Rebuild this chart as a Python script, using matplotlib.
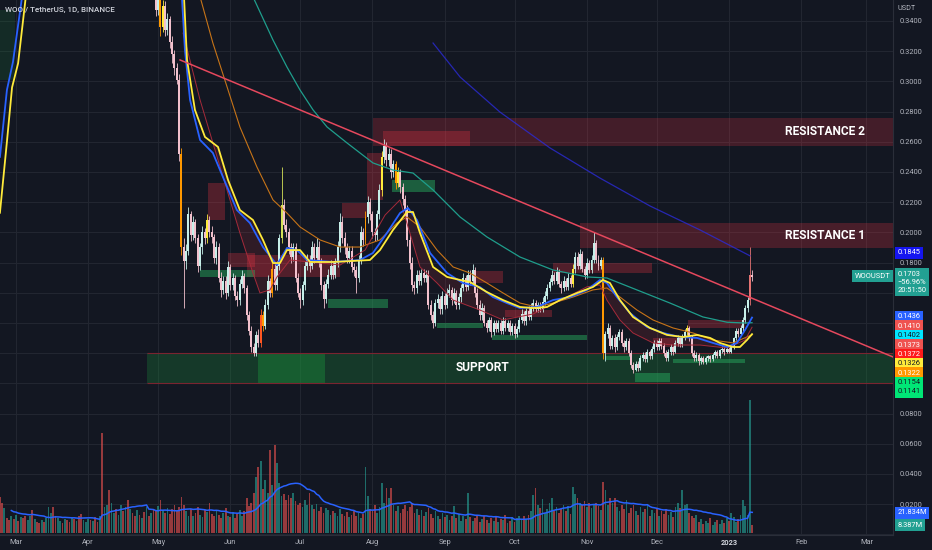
#!/usr/bin/env python3
# WOO / TetherUS daily chart with zones, moving averages and volume

import numpy as np
import pandas as pd
import matplotlib
matplotlib.use("Agg")
import matplotlib.pyplot as plt
from matplotlib.patches import Rectangle
from matplotlib.transforms import blended_transform_factory

plt.rcParams["font.family"] = ["Roboto", "DejaVu Sans"]

BG = "#131722"
GRID = "#222631"
TXT = "#b2b5be"
BULL = "#c6efe9"
BEAR = "#f2c1cd"

# x axis: day number counted from 2022-03-01
month_days = [0, 31, 61, 92, 122, 153, 184, 214, 245, 275, 306, 337, 365]
month_labels = ["Mar", "Apr", "May", "Jun", "Jul", "Aug", "Sep", "Oct", "Nov", "Dec", "2023", "Feb", "Mar"]

# candles (open = previous close)
first_day = 60
first_open = 0.370
closes = [
    0.347, 0.356, 0.336, 0.350, 0.334, 0.341, 0.326, 0.318, 0.309, 0.301,
    0.252, 0.190, 0.181, 0.188, 0.212, 0.198, 0.207, 0.196, 0.178, 0.190,
    0.200, 0.196, 0.208, 0.200, 0.197, 0.183, 0.190, 0.170, 0.162, 0.168,
    0.160, 0.177, 0.165, 0.170, 0.158, 0.155, 0.166, 0.171, 0.163, 0.145,
    0.135, 0.124, 0.120, 0.132, 0.127, 0.145, 0.138, 0.152, 0.168, 0.160,
    0.176, 0.165, 0.178, 0.196, 0.218, 0.205, 0.200, 0.190, 0.184, 0.190,
    0.170, 0.160, 0.155, 0.165, 0.178, 0.182, 0.178, 0.190, 0.183, 0.190,
    0.180, 0.165, 0.156, 0.166, 0.172, 0.178, 0.172, 0.180, 0.190, 0.207,
    0.196, 0.190, 0.183, 0.188, 0.177, 0.175, 0.170, 0.182, 0.200, 0.195,
    0.210, 0.220, 0.212, 0.200, 0.198, 0.212, 0.228, 0.250, 0.257, 0.248,
    0.252, 0.240, 0.245, 0.233, 0.240, 0.230, 0.222, 0.215, 0.195, 0.180,
    0.165, 0.163, 0.172, 0.168, 0.173, 0.170, 0.172, 0.152, 0.145, 0.140,
    0.153, 0.156, 0.149, 0.158, 0.152, 0.160, 0.162, 0.155, 0.160, 0.152,
    0.157, 0.163, 0.170, 0.164, 0.172, 0.168, 0.175, 0.160, 0.152, 0.145,
    0.150, 0.140, 0.137, 0.142, 0.134, 0.140, 0.136, 0.140, 0.135, 0.141,
    0.137, 0.140, 0.134, 0.138, 0.133, 0.136, 0.142, 0.146, 0.141, 0.148,
    0.144, 0.150, 0.153, 0.149, 0.152, 0.149, 0.154, 0.158, 0.163, 0.167,
    0.172, 0.168, 0.174, 0.166, 0.163, 0.168, 0.164, 0.170, 0.166, 0.176,
    0.184, 0.178, 0.186, 0.176, 0.172, 0.180, 0.175, 0.182, 0.193, 0.182,
    0.178, 0.182, 0.120, 0.133, 0.137, 0.125, 0.130, 0.124, 0.131, 0.134,
    0.127, 0.124, 0.128, 0.120, 0.112, 0.109, 0.113, 0.110, 0.117, 0.119,
    0.116, 0.121, 0.118, 0.123, 0.127, 0.124, 0.128, 0.125, 0.120, 0.117,
    0.121, 0.124, 0.121, 0.127, 0.130, 0.126, 0.131, 0.134, 0.137, 0.130,
    0.120, 0.117, 0.119, 0.115, 0.117, 0.114, 0.117, 0.118, 0.116, 0.119,
    0.121, 0.118, 0.122, 0.123, 0.121, 0.123, 0.121, 0.124, 0.130, 0.135,
    0.133, 0.137, 0.142, 0.150, 0.155, 0.172, 0.1703,
]
highs = [
    0.378, 0.362, 0.360, 0.354, 0.353, 0.345, 0.343, 0.330, 0.321, 0.312,
    0.305, 0.256, 0.196, 0.192, 0.217, 0.214, 0.211, 0.209, 0.199, 0.193,
    0.204, 0.203, 0.212, 0.211, 0.204, 0.199, 0.194, 0.193, 0.174, 0.171,
    0.171, 0.181, 0.179, 0.173, 0.172, 0.161, 0.169, 0.175, 0.173, 0.165,
    0.148, 0.138, 0.127, 0.135, 0.136, 0.149, 0.148, 0.156, 0.172, 0.170,
    0.180, 0.179, 0.181, 0.199, 0.243, 0.222, 0.209, 0.203, 0.193, 0.193,
    0.193, 0.173, 0.163, 0.168, 0.181, 0.186, 0.185, 0.194, 0.193, 0.196,
    0.194, 0.183, 0.168, 0.169, 0.176, 0.182, 0.181, 0.183, 0.194, 0.213,
    0.211, 0.200, 0.193, 0.191, 0.191, 0.180, 0.178, 0.185, 0.204, 0.203,
    0.214, 0.224, 0.223, 0.214, 0.203, 0.215, 0.232, 0.254, 0.262, 0.260,
    0.256, 0.255, 0.248, 0.247, 0.243, 0.242, 0.233, 0.225, 0.218, 0.198,
    0.184, 0.168, 0.175, 0.175, 0.176, 0.176, 0.175, 0.175, 0.155, 0.148,
    0.156, 0.159, 0.158, 0.161, 0.160, 0.163, 0.166, 0.164, 0.163, 0.162,
    0.160, 0.166, 0.173, 0.172, 0.175, 0.175, 0.179, 0.177, 0.163, 0.155,
    0.153, 0.152, 0.142, 0.144, 0.144, 0.142, 0.142, 0.142, 0.142, 0.144,
    0.143, 0.142, 0.142, 0.140, 0.140, 0.138, 0.144, 0.149, 0.148, 0.150,
    0.151, 0.153, 0.156, 0.155, 0.154, 0.154, 0.157, 0.161, 0.166, 0.170,
    0.175, 0.174, 0.177, 0.176, 0.168, 0.171, 0.170, 0.173, 0.172, 0.179,
    0.187, 0.187, 0.189, 0.188, 0.178, 0.183, 0.182, 0.185, 0.200, 0.195,
    0.185, 0.184, 0.184, 0.135, 0.140, 0.139, 0.132, 0.133, 0.133, 0.136,
    0.136, 0.129, 0.130, 0.130, 0.122, 0.114, 0.115, 0.115, 0.119, 0.121,
    0.121, 0.123, 0.122, 0.125, 0.129, 0.129, 0.130, 0.130, 0.127, 0.122,
    0.123, 0.126, 0.125, 0.129, 0.132, 0.131, 0.133, 0.136, 0.139, 0.138,
    0.132, 0.122, 0.121, 0.120, 0.118, 0.118, 0.118, 0.119, 0.119, 0.120,
    0.122, 0.122, 0.123, 0.125, 0.124, 0.124, 0.124, 0.125, 0.131, 0.137,
    0.137, 0.139, 0.144, 0.152, 0.157, 0.190, 0.175,
]
lows = [
    0.343, 0.344, 0.330, 0.333, 0.330, 0.331, 0.322, 0.312, 0.304, 0.298,
    0.247, 0.185, 0.150, 0.176, 0.185, 0.194, 0.195, 0.193, 0.174, 0.175,
    0.186, 0.192, 0.193, 0.197, 0.193, 0.180, 0.179, 0.167, 0.157, 0.159,
    0.156, 0.158, 0.162, 0.162, 0.155, 0.151, 0.152, 0.163, 0.160, 0.142,
    0.132, 0.121, 0.118, 0.118, 0.124, 0.124, 0.135, 0.136, 0.149, 0.157,
    0.157, 0.162, 0.162, 0.175, 0.193, 0.202, 0.197, 0.186, 0.180, 0.181,
    0.167, 0.157, 0.150, 0.152, 0.162, 0.175, 0.174, 0.176, 0.180, 0.181,
    0.177, 0.162, 0.150, 0.153, 0.163, 0.169, 0.169, 0.170, 0.177, 0.187,
    0.193, 0.186, 0.180, 0.180, 0.174, 0.171, 0.160, 0.167, 0.179, 0.191,
    0.192, 0.206, 0.208, 0.196, 0.194, 0.195, 0.209, 0.224, 0.246, 0.244,
    0.244, 0.236, 0.237, 0.229, 0.230, 0.226, 0.218, 0.211, 0.191, 0.176,
    0.161, 0.159, 0.160, 0.165, 0.165, 0.167, 0.167, 0.149, 0.142, 0.137,
    0.138, 0.150, 0.146, 0.146, 0.149, 0.150, 0.157, 0.152, 0.153, 0.149,
    0.149, 0.154, 0.161, 0.161, 0.162, 0.165, 0.166, 0.157, 0.149, 0.142,
    0.142, 0.138, 0.134, 0.135, 0.131, 0.132, 0.134, 0.134, 0.133, 0.133,
    0.135, 0.135, 0.132, 0.132, 0.130, 0.131, 0.134, 0.140, 0.139, 0.139,
    0.142, 0.142, 0.148, 0.147, 0.147, 0.147, 0.147, 0.152, 0.156, 0.161,
    0.165, 0.166, 0.166, 0.164, 0.160, 0.161, 0.162, 0.162, 0.164, 0.164,
    0.173, 0.176, 0.176, 0.174, 0.169, 0.170, 0.173, 0.173, 0.180, 0.180,
    0.175, 0.176, 0.116, 0.115, 0.130, 0.123, 0.123, 0.121, 0.122, 0.129,
    0.125, 0.121, 0.122, 0.118, 0.110, 0.107, 0.108, 0.108, 0.109, 0.115,
    0.114, 0.114, 0.116, 0.116, 0.121, 0.122, 0.122, 0.123, 0.118, 0.115,
    0.115, 0.119, 0.119, 0.120, 0.125, 0.124, 0.124, 0.129, 0.132, 0.128,
    0.118, 0.115, 0.115, 0.112, 0.113, 0.113, 0.113, 0.115, 0.114, 0.115,
    0.117, 0.117, 0.117, 0.120, 0.119, 0.120, 0.120, 0.120, 0.123, 0.129,
    0.131, 0.132, 0.135, 0.140, 0.147, 0.152, 0.168,
]
# candles painted by the indicator in another colour
highlight = {62: "#ff9800", 63: "#ffeb3b", 71: "#ff9800", 82: "#ffeb3b",
             105: "#ff5722", 106: "#ff9800", 110: "#ff9800", 114: "#d4e157",
             150: "#ff9800", 157: "#ffeb3b", 163: "#ff9800", 164: "#ffeb3b",
             239: "#ffeb3b", 252: "#ff9800", 288: "#ffeb3b", 315: "#e57373"}

# volume in millions, from day -7
vol_first_day = -7
volumes = [
    39, 33, 27, 16, 14, 18, 15, 20, 13, 17,
    16, 19, 14, 18, 25, 15, 12, 11, 14, 12,
    16, 28, 22, 28, 19, 16, 13, 11, 15, 14,
    12, 16, 15, 13, 18, 21, 14, 12, 15, 14,
    13, 17, 12, 18, 109, 28, 30, 47, 33, 22,
    26, 20, 30, 24, 28, 36, 26, 22, 18, 25,
    20, 16, 23, 28, 19, 22, 26, 24, 29, 36,
    25, 22, 27, 21, 26, 30, 24, 28, 39, 30,
    24, 19, 26, 18, 22, 28, 20, 17, 25, 23,
    33, 21, 18, 24, 20, 16, 22, 27, 19, 17,
    23, 16, 21, 25, 18, 24, 38, 29, 33, 44,
    61, 72, 78, 48, 58, 44, 90, 52, 96, 76,
    55, 40, 43, 36, 41, 38, 44, 35, 30, 33,
    28, 36, 31, 44, 30, 26, 32, 24, 28, 22,
    27, 25, 20, 24, 22, 18, 26, 21, 19, 23,
    17, 20, 24, 18, 22, 16, 21, 72, 40, 26,
    24, 30, 22, 28, 54, 33, 49, 38, 49, 30,
    24, 29, 22, 26, 30, 24, 28, 33, 22, 26,
    20, 25, 18, 23, 27, 21, 16, 24, 19, 15,
    22, 17, 20, 14, 18, 29, 16, 21, 13, 18,
    15, 44, 17, 13, 16, 20, 12, 15, 18, 14,
    11, 16, 13, 18, 12, 15, 14, 20, 11, 13,
    17, 12, 16, 19, 14, 18, 15, 20, 24, 41,
    49, 30, 27, 37, 22, 26, 33, 38, 24, 28,
    22, 26, 30, 24, 29, 21, 50, 42, 38, 33,
    30, 35, 28, 33, 27, 31, 33, 29, 25, 56,
    47, 30, 38, 33, 38, 28, 24, 31, 26, 36,
    22, 27, 30, 24, 20, 28, 23, 26, 30, 19,
    25, 22, 27, 18, 24, 21, 26, 20, 23, 17,
    28, 33, 27, 47, 30, 32, 22, 18, 16, 20,
    12, 15, 10, 13, 11, 16, 9, 12, 14, 10,
    14, 11, 16, 13, 22, 17, 12, 15, 20, 36,
    29, 20, 145, 8.387,
]
# bar direction for the days whose candles are above the visible range
pre_dirs = "rrgrrgrgrg" "rrggrgrrgr" "gggrrggrgr" "rgrgrrgggr" "grrgrggrgg" "rggrgrgrrg" "rgrgrgr"

# moving averages (day, price)
yellow_left_d = [-6.9, -3.9, -1.7, 0.9, 4.2]
yellow_left_p = [0.213, 0.260, 0.296, 0.312, 0.356]
blue_left_d = [-6.9, -3.9, -1.3, 2.6]
blue_left_p = [0.250, 0.2943, 0.3129, 0.356]
yellow_d = [72.1, 73.4, 76.8, 81.1, 86.7, 91.0, 96.1, 101.7, 106.0, 110.3,
            113.3, 116.3, 121.9, 126.2, 136.1, 151.9, 156.2, 161.8, 167.8, 170.4,
            173.4, 179.0, 185.0, 190.6, 194.8, 202.1, 209.0, 216.3, 221.9, 227.9,
            233.5, 240.8, 247.6, 251.9, 254.9, 259.2, 264.8, 272.1, 279.4, 286.3,
            292.3, 297.9, 302.1, 307.7, 310.7, 313.7, 315.9]
yellow_p = [0.356, 0.3142, 0.2811, 0.2632, 0.2566, 0.2347, 0.2148, 0.2082, 0.1950, 0.1797,
            0.1797, 0.1883, 0.1883, 0.1804, 0.1804, 0.1817, 0.1883, 0.2016, 0.2135, 0.2135,
            0.1996, 0.1771, 0.1705, 0.1685, 0.1672, 0.1605, 0.1552, 0.1506, 0.1499, 0.1506,
            0.1552, 0.1599, 0.1638, 0.1685, 0.1665, 0.1552, 0.1440, 0.1367, 0.1321, 0.1307,
            0.1321, 0.1301, 0.1268, 0.1241, 0.1241, 0.1287, 0.1326]
blue_d = [71.2, 72.5, 74.7, 79.0, 84.5, 90.6, 94.8, 100.4, 106.0, 112.0,
          116.3, 120.6, 124.9, 136.1, 147.6, 153.2, 159.2, 164.8, 168.2, 172.1,
          177.7, 185.0, 191.8, 199.1, 204.7, 210.7, 216.3, 223.6, 230.5, 237.8,
          245.1, 250.6, 253.6, 257.9, 263.5, 270.8, 277.7, 285.0, 292.3, 299.1,
          305.2, 309.4, 312.9, 315.9]
blue_p = [0.356, 0.3208, 0.2877, 0.2612, 0.2526, 0.2301, 0.2148, 0.2062, 0.1903, 0.1784,
          0.1897, 0.1883, 0.1817, 0.1804, 0.1817, 0.1864, 0.1996, 0.2128, 0.2162, 0.2082,
          0.1864, 0.1731, 0.1665, 0.1638, 0.1572, 0.1532, 0.1499, 0.1506, 0.1552, 0.1572,
          0.1619, 0.1685, 0.1665, 0.1572, 0.1466, 0.1374, 0.1334, 0.1307, 0.1301, 0.1268,
          0.1241, 0.1268, 0.1354, 0.1436]
orange_d = [79.0, 84.5, 90.6, 96.1, 103.4, 110.3, 116.3, 121.9, 130.5, 139.1,
            147.6, 156.2, 163.5, 167.8, 173.4, 180.7, 187.6, 194.8, 202.1, 209.0,
            216.3, 223.6, 230.5, 239.1, 247.6, 253.6, 259.2, 266.5, 273.4, 282.0,
            290.6, 299.1, 307.7, 315.9]
orange_p = [0.356, 0.3254, 0.2963, 0.2698, 0.2433, 0.2215, 0.2128, 0.2036, 0.1950, 0.1903,
            0.1903, 0.1950, 0.2062, 0.2102, 0.2036, 0.1883, 0.1771, 0.1731, 0.1665, 0.1599,
            0.1532, 0.1506, 0.1532, 0.1572, 0.1619, 0.1632, 0.1572, 0.1486, 0.1420, 0.1367,
            0.1334, 0.1287, 0.1268, 0.1322]
teal_d = [101.7, 110.3, 116.3, 121.9, 127.5, 133.5, 142.1, 153.2, 161.8, 170.4,
          179.0, 190.6, 202.1, 216.3, 230.5, 245.1, 253.6, 266.5, 280.7, 294.8,
          305.2, 312.9, 315.9]
teal_p = [0.356, 0.3274, 0.3095, 0.2943, 0.2811, 0.2698, 0.2592, 0.2460, 0.2413, 0.2393,
          0.2281, 0.2102, 0.1970, 0.1837, 0.1751, 0.1705, 0.1698, 0.1619, 0.1532, 0.1440,
          0.1405, 0.1400, 0.1402]
navy_d = [179.0, 190.6, 207.7, 229.2, 250.6, 272.1, 293.6, 315.0]
navy_p = [0.3254, 0.3029, 0.2797, 0.2559, 0.2360, 0.2175, 0.2016, 0.1845]
red_d = [71.7, 79.0, 87.6, 96.1, 101.7, 104.7, 109.0, 112.0, 117.6, 126.2,
         139.1, 149.8, 158.4, 164.8, 173.4, 180.7, 187.6, 199.1, 209.0, 222.0,
         235.0, 245.1, 250.6, 253.6, 259.2, 264.8, 273.4, 282.0, 293.6, 305.2,
         312.9, 315.9]
red_p = [0.332, 0.2877, 0.2433, 0.1996, 0.1731, 0.1599, 0.1619, 0.1705, 0.1817, 0.1804,
         0.1784, 0.1883, 0.2115, 0.2215, 0.1771, 0.1665, 0.1552, 0.1486, 0.1420, 0.1460,
         0.1560, 0.1640, 0.1652, 0.1552, 0.1420, 0.1334, 0.1268, 0.1254, 0.1254, 0.1234,
         0.1287, 0.1372]

# falling trendline
trend_d = [70.4, 376.4]
trend_p = [0.3142, 0.1175]

# zones: (day start, day end, price low, price high)
red_zones = [(82.4, 89.7, 0.2082, 0.2327), (91.0, 102.6, 0.1771, 0.1864),
             (99.1, 139.1, 0.1705, 0.1850), (139.9, 150.6, 0.2095, 0.2195),
             (150.6, 157.5, 0.2215, 0.2526), (195.7, 209.0, 0.1665, 0.1744),
             (209.9, 230.0, 0.1440, 0.1486), (230.5, 273.0, 0.1731, 0.1797),
             (273.4, 286.3, 0.1241, 0.1301), (288.4, 312.9, 0.1367, 0.1420),
             (157.5, 194.8, 0.2572, 0.2672)]
green_zones = [(79.0, 102.6, 0.1705, 0.1751), (133.9, 159.7, 0.1499, 0.1559),
               (161.4, 179.8, 0.2268, 0.2347), (180.7, 200.4, 0.1367, 0.1400),
               (204.3, 245.1, 0.1287, 0.1321), (252.8, 263.5, 0.1155, 0.1182),
               (265.7, 280.7, 0.1009, 0.1069), (282.0, 312.9, 0.1135, 0.1162)]
res2 = (153.2, 0.2572, 0.2758)
res1 = (242.1, 0.1897, 0.2062)
support = (56.2, 0.1003, 0.1201)
support_core = (103.9, 132.6)

# price tags on the right scale
ma_tag_values = [0.1436, 0.1410, 0.1402, 0.1373, 0.1372, 0.1326, 0.1322, 0.1154, 0.1141]
ma_tag_colors = ["#2962ff", "#ef5350", "#00e5ff", "#ef5350", "#ff1a1a", "#ffeb3b", "#ff9800", "#00e676", "#00e676"]
ma_tag_text = ["white", "white", "#131722", "white", "white", "#131722", "white", "#131722", "#131722"]
last_price = 0.1703
change_pct = "\u221256.96%"
countdown = "20:51:50"
navy_tag = 0.1845
vol_ma_tag = 21.834
last_vol = 8.387

FS = 5.4


def tag(ax, trans, y, text, bg, fg, **kw):
    ax.text(1.005, y, text, transform=trans, ha="left", va="center", fontsize=FS,
            color=fg, clip_on=False, zorder=20,
            bbox=dict(boxstyle="square,pad=0.32", fc=bg, ec="none"), **kw)


def main():
    fig = plt.figure(figsize=(9.32, 5.5), dpi=100)
    fig.patch.set_facecolor(BG)
    rect = [0, 15 / 550, 893 / 932, 535 / 550]
    ax = fig.add_axes(rect)
    ax.set_facecolor(BG)
    xmax = 376.4
    ax.set_xlim(-6.87, xmax)
    ax.set_ylim(-0.0004, 0.3539)

    # grid and scales
    yt = np.round(np.arange(0.0, 0.35, 0.02), 2)
    ax.set_yticks(yt)
    ax.set_yticklabels(["%.4f" % v if (v >= 0.18 or 0.01 < v <= 0.08) else "" for v in yt])
    ax.yaxis.tick_right()
    ax.set_xticks(month_days)
    ax.set_xticklabels(month_labels)
    ax.tick_params(axis="y", length=0, pad=5, labelsize=FS, labelcolor=TXT)
    ax.tick_params(axis="x", length=0, pad=3, labelsize=FS, labelcolor=TXT)
    ax.get_xticklabels()[10].set_fontweight("bold")
    ax.get_xticklabels()[10].set_color("#d1d4dc")
    ax.grid(True, color=GRID, lw=0.8)
    ax.set_axisbelow(True)
    for s in ["top", "left"]:
        ax.spines[s].set_visible(False)
    for s in ["right", "bottom"]:
        ax.spines[s].set_color("#2a2e39")

    # big zones
    ax.add_patch(Rectangle((res2[0], res2[1]), xmax - res2[0], res2[2] - res2[1],
                           fc="#f23645", alpha=0.22, lw=0, zorder=1))
    ax.add_patch(Rectangle((res1[0], res1[1]), xmax - res1[0], res1[2] - res1[1],
                           fc="#f23645", alpha=0.24, lw=0, zorder=1))
    ax.add_patch(Rectangle((support[0], support[1]), xmax - support[0], support[2] - support[1],
                           fc="#1b8a3a", alpha=0.3, lw=0, zorder=1))
    ax.add_patch(Rectangle((support_core[0], support[1]), support_core[1] - support_core[0],
                           support[2] - support[1], fc="#1b8a3a", alpha=0.45, lw=0, zorder=1))
    ax.hlines([support[1], support[2]], support[0], xmax, color="#7a2430", lw=0.8, zorder=1)
    ax.add_patch(Rectangle((-6.87, 0.301), 6.4, 0.046, fc="#1b8a3a", alpha=0.18, lw=0, zorder=1))

    for d0, d1, lo, hi in red_zones:
        ax.add_patch(Rectangle((d0, lo), d1 - d0, hi - lo, fc="#f23645", alpha=0.28, lw=0, zorder=2))
    for d0, d1, lo, hi in green_zones:
        ax.add_patch(Rectangle((d0, lo), d1 - d0, hi - lo, fc="#26a65b", alpha=0.5, lw=0, zorder=2))

    # red cloud between the yellow and the fast red line
    grid_d = np.arange(72.0, 316.0, 0.5)
    yi = np.interp(grid_d, yellow_d, yellow_p)
    ri = np.interp(grid_d, red_d, red_p)
    ax.fill_between(grid_d, yi, ri, where=yi > ri, color="#f23645", alpha=0.13, lw=0, zorder=2)

    # candles
    days = np.arange(first_day, first_day + len(closes))
    c = np.array(closes)
    o = np.array([first_open] + closes[:-1])
    up = c >= o
    colors = [highlight.get(int(d), BULL if u else BEAR) for d, u in zip(days, up)]
    ax.vlines(days, lows, highs, colors=colors, lw=0.6, zorder=4)
    ax.bar(days, np.maximum(np.abs(c - o), 0.0008), bottom=np.minimum(o, c),
           width=0.85, color=colors, lw=0, zorder=4)

    # moving averages
    ax.plot(navy_d, navy_p, color="#2b2bd6", lw=0.9, alpha=0.8, zorder=5)
    ax.plot(teal_d, teal_p, color="#1f9e8c", lw=0.9, zorder=5)
    ax.plot(orange_d, orange_p, color="#c77418", lw=0.8, zorder=5)
    ax.plot(red_d, red_p, color="#a52a3a", lw=0.7, zorder=5)
    ax.plot(blue_left_d, blue_left_p, color="#2962ff", lw=1.3, zorder=6)
    ax.plot(blue_d, blue_p, color="#2962ff", lw=1.3, zorder=6)
    ax.plot(yellow_left_d, yellow_left_p, color="#ffeb3b", lw=1.3, zorder=6)
    ax.plot(yellow_d, yellow_p, color="#ffeb3b", lw=1.3, zorder=6)
    ax.plot(trend_d, trend_p, color="#e5485d", lw=1.1, zorder=7)

    # zone captions
    cap = dict(color="white", fontsize=8.6, fontweight="bold", ha="center", va="center", zorder=8)
    ax.text(347.2, (res2[1] + res2[2]) / 2, "RESISTANCE 2", **cap)
    ax.text(347.2, (res1[1] + res1[2]) / 2, "RESISTANCE 1", **cap)
    ax.text(200.4, (support[1] + support[2]) / 2, "SUPPORT", **cap)

    # volume overlay
    axv = fig.add_axes(rect, sharex=ax)
    axv.patch.set_visible(False)
    axv.axis("off")
    axv.set_ylim(-2.18, 581)
    vdays = np.arange(vol_first_day, vol_first_day + len(volumes))
    vcol = []
    for d in vdays:
        if d < first_day:
            rising = pre_dirs[d - vol_first_day] == "g"
        else:
            rising = bool(up[d - first_day])
        vcol.append("#26a69a" if rising else "#ef5350")
    axv.bar(vdays, volumes, width=0.75, color=vcol, alpha=0.6, lw=0)
    vma = pd.Series(volumes, dtype=float).rolling(20, min_periods=1).mean()
    axv.plot(vdays[5:], vma.values[5:], color="#2962ff", lw=1.1)

    # right scale tags
    tp = blended_transform_factory(ax.transAxes, ax.transData)
    tv = blended_transform_factory(ax.transAxes, axv.transData)
    tag(ax, tp, navy_tag + 0.002, "%.4f" % navy_tag, "#1515f0", "white")
    step = 0.0062
    for i, (v, bg, fg) in enumerate(zip(ma_tag_values, ma_tag_colors, ma_tag_text)):
        tag(ax, tp, ma_tag_values[0] + 0.0004 - i * step, "%.4f" % v, bg, fg)
    ax.text(1.005, last_price + 0.0042, "%.4f\n%s\n%s" % (last_price, change_pct, countdown),
            transform=tp, ha="left", va="top", fontsize=FS, color="white", linespacing=1.2,
            clip_on=False, zorder=20, bbox=dict(boxstyle="square,pad=0.32", fc="#22a092", ec="none"))
    ax.text(0.997, last_price + 0.0008, "WOOUSDT", transform=tp, ha="right", va="center",
            fontsize=FS, color="white", clip_on=False, zorder=20,
            bbox=dict(boxstyle="square,pad=0.32", fc="#22a092", ec="none"))
    tag(ax, tv, vol_ma_tag, "%.3fM" % vol_ma_tag, "#2962ff", "white")
    tag(ax, tv, last_vol, "%.3fM" % last_vol, "#22a092", "white")

    fig.text(5 / 932, 1 - 10 / 550, "WOO / TetherUS, 1D, BINANCE", color="#d1d4dc",
             fontsize=5.8, fontweight="medium", va="center", ha="left")
    fig.text(898 / 932, 1 - 8 / 550, "USDT", color=TXT, fontsize=5.2, va="center", ha="left")

    fig.savefig("out.png", dpi=100, facecolor=BG)


if __name__ == "__main__":
    main()
